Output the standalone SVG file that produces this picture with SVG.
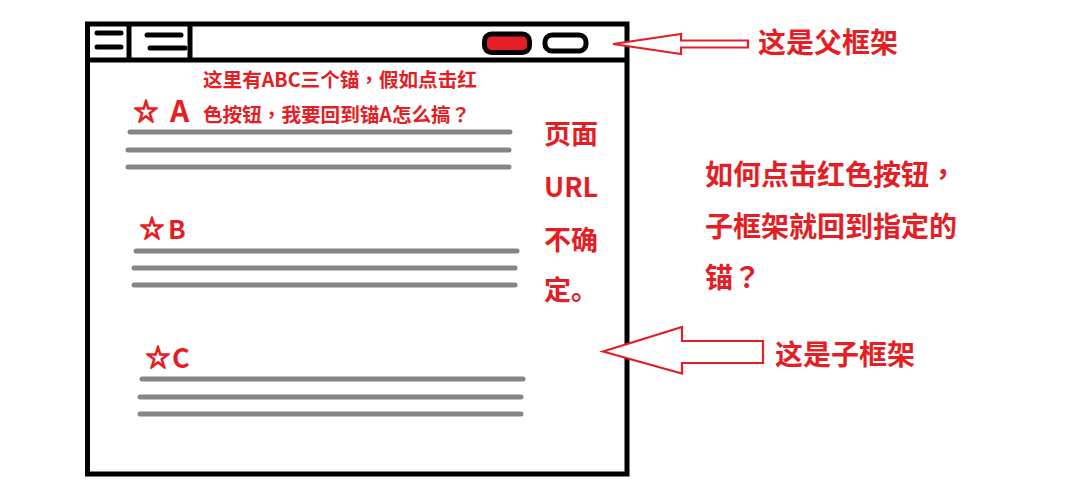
<svg xmlns="http://www.w3.org/2000/svg" width="1072" height="487" viewBox="0 0 1072 487">
<style>
.frame{fill:none;stroke:#000;stroke-width:5}
.bar{stroke:#000;stroke-width:5;stroke-linecap:round}
.gl{stroke:#868686;stroke-width:5;stroke-linecap:round}
.arrow{fill:#fff;stroke:#e31e24;stroke-width:2.2;stroke-linejoin:miter}
.t{font-family:"Noto Sans CJK SC","Liberation Sans",sans-serif;font-weight:bold;fill:#e31e24}
.star{font-family:"Noto Sans CJK SC","DejaVu Sans",sans-serif;fill:#e31e24;stroke:#e31e24;stroke-width:1.6;stroke-linejoin:miter}
.p{font-family:"Noto Sans CJK TC",sans-serif}
</style>
<rect width="1072" height="487" fill="#fff"/>
<g id="parent-frame">
  <rect class="frame" x="87.5" y="24" width="539.5" height="450"/>
  <line class="frame" x1="87.5" y1="60" x2="627" y2="60"/>
  <line class="frame" x1="129" y1="24" x2="129" y2="60"/>
  <line class="frame" x1="190" y1="24" x2="190" y2="60"/>
  <line class="bar" x1="97" y1="33" x2="121" y2="33"/>
  <line class="bar" x1="97" y1="47" x2="121" y2="47"/>
  <line class="bar" x1="147" y1="35" x2="181" y2="35"/>
  <line class="bar" x1="150" y1="48" x2="185" y2="48"/>
  <rect x="484.5" y="34" width="45" height="18.5" rx="7" fill="#e31e24" stroke="#000" stroke-width="5"/>
  <rect x="545" y="35" width="41" height="16" rx="7" fill="#fff" stroke="#000" stroke-width="5"/>
</g>
<g id="anchor-a">
  <text class="star" x="134" y="120" font-size="24">☆</text>
  <text class="t" x="170" y="122" font-size="30">A</text>
  <line class="gl" x1="130" y1="132" x2="510" y2="132"/>
  <line class="gl" x1="128" y1="150" x2="509" y2="150"/>
  <line class="gl" x1="128" y1="167" x2="509" y2="167"/>
</g>
<g id="question">
  <text class="t" x="203" y="86.5" font-size="19.6">这里有ABC三个锚<tspan class="p">，</tspan>假如点击红</text>
  <text class="t" x="203" y="121.5" font-size="19.6">色按钮<tspan class="p">，</tspan>我要回到锚A怎么搞<tspan class="p">？</tspan></text>
</g>
<g id="anchor-b">
  <text class="star" x="140" y="237" font-size="24">☆</text>
  <text class="t" x="168" y="239" font-size="26">B</text>
  <line class="gl" x1="136" y1="251" x2="517" y2="251"/>
  <line class="gl" x1="134" y1="268" x2="515" y2="268"/>
  <line class="gl" x1="134" y1="285" x2="515" y2="285"/>
</g>
<g id="anchor-c">
  <text class="star" x="146" y="366" font-size="24">☆</text>
  <text class="t" x="172" y="368" font-size="27">C</text>
  <line class="gl" x1="142" y1="379" x2="523" y2="379"/>
  <line class="gl" x1="140" y1="397" x2="521" y2="397"/>
  <line class="gl" x1="140" y1="414" x2="521" y2="414"/>
</g>
<g id="url-note">
  <text class="t" font-size="27"><tspan x="544" y="144">页面</tspan><tspan x="544" y="197">URL</tspan><tspan x="544" y="250">不确</tspan><tspan x="544" y="300">定。</tspan></text>
</g>
<g id="connectors">
  <polygon class="arrow" points="613,44 681,34 681,40.5 748,40.5 748,47.5 681,47.5 681,54"/>
  <polygon class="arrow" points="603,351.5 682,327 682,341 763,341 763,363 682,363 682,373.5"/>
</g>
<g id="label-parent">
  <text class="t" x="758" y="53" font-size="28">这是父框架</text>
</g>
<g id="label-child">
  <text class="t" x="775" y="364.5" font-size="28">这是子框架</text>
</g>
<g id="question-right">
  <text class="t" font-size="28"><tspan x="705" y="185">如何点击红色按钮<tspan class="p">，</tspan></tspan><tspan x="705" y="237">子框架就回到指定的</tspan><tspan x="705" y="288">锚<tspan class="p">？</tspan></tspan></text>
</g>
</svg>
